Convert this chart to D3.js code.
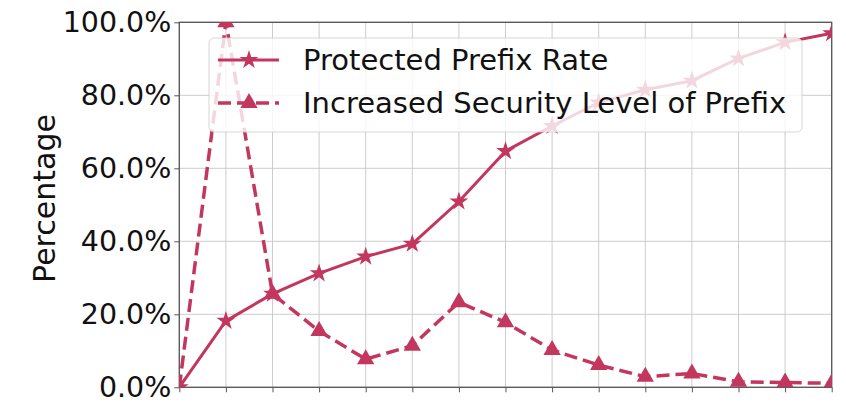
<!DOCTYPE html>
<html>
<head>
<meta charset="utf-8">
<script src="https://cdn.jsdelivr.net/npm/d3@7"></script>
<style>
  html, body { margin: 0; padding: 0; background: #fff; }
  svg { display: block; font-family: 'DejaVu Sans', sans-serif; }
</style>
</head>
<body>
<div id="chart"></div>
<script>
// values, one per x position (0..14)
var xIndex = [0, 1, 2, 3, 4, 5, 6, 7, 8, 9, 10, 11, 12, 13, 14];
var protectedRate = [0, 18.2, 25.6, 31.2, 35.8, 39.3, 50.9, 64.7, 71.6, 78.0, 81.5, 84.0, 90.1, 94.5, 97.0];
var increasedLevel = [0, 100, 25.6, 15.4, 7.7, 11.4, 23.3, 17.8, 10.2, 6.1, 2.9, 3.8, 1.5, 1.3, 1.1];
var yTicks = [0, 20, 40, 60, 80, 100];
var seriesNames = ['Protected Prefix Rate', 'Increased Security Level of Prefix'];

var color = '#c3375f';
var width = 846, height = 404;
var margin = {left: 179.3, right: 846 - 831.7, top: 22.3, bottom: 404 - 387.3};

var svg = d3.select('#chart').append('svg')
  .attr('width', width)
  .attr('height', height);

var x = d3.scaleLinear()
  .domain([0, 14])
  .range([margin.left, width - margin.right]);
var y = d3.scaleLinear()
  .domain([0, 100])
  .range([height - margin.bottom, margin.top]);

svg.append('defs').append('clipPath')
  .attr('id', 'plot-clip')
  .append('rect')
  .attr('x', x(0))
  .attr('y', y(100))
  .attr('width', x(14) - x(0))
  .attr('height', y(0) - y(100));

// grid
var grid = svg.append('g').attr('class', 'grid');
grid.selectAll('line.gx')
  .data(xIndex)
  .enter().append('line')
  .attr('class', 'gx')
  .attr('x1', function(d) { return x(d); })
  .attr('x2', function(d) { return x(d); })
  .attr('y1', y(0))
  .attr('y2', y(100))
  .attr('stroke', '#cccccc')
  .attr('stroke-width', 1);
grid.selectAll('line.gy')
  .data(yTicks)
  .enter().append('line')
  .attr('class', 'gy')
  .attr('x1', x(0))
  .attr('x2', x(14))
  .attr('y1', function(d) { return y(d); })
  .attr('y2', function(d) { return y(d); })
  .attr('stroke', '#cccccc')
  .attr('stroke-width', 1);

// axes
var yAxis = svg.append('g')
  .attr('transform', 'translate(' + x(0) + ',0)')
  .call(d3.axisLeft(y)
    .tickValues(yTicks)
    .tickSize(5)
    .tickPadding(3)
    .tickFormat(function(d) { return d.toFixed(1) + '%'; }));
yAxis.select('.domain').remove();
yAxis.selectAll('.tick line').attr('stroke', '#555');
yAxis.selectAll('.tick text')
  .attr('fill', '#111')
  .style('font-size', '28.5px')
  .style('font-family', "'DejaVu Sans', sans-serif");

var xAxis = svg.append('g')
  .attr('transform', 'translate(0,' + y(0) + ')')
  .call(d3.axisBottom(x)
    .tickValues(xIndex)
    .tickSize(5)
    .tickFormat(''));
xAxis.select('.domain').remove();
xAxis.selectAll('.tick line').attr('stroke', '#555');

svg.append('rect')
  .attr('x', x(0))
  .attr('y', y(100))
  .attr('width', x(14) - x(0))
  .attr('height', y(0) - y(100))
  .attr('fill', 'none')
  .attr('stroke', '#555')
  .attr('stroke-width', 1.3);

svg.append('text')
  .attr('transform', 'translate(55,198.5) rotate(-90)')
  .attr('text-anchor', 'middle')
  .attr('fill', '#111')
  .style('font-size', '30px')
  .text('Percentage');

// lines
var line = d3.line()
  .x(function(d, i) { return x(xIndex[i]); })
  .y(function(d) { return y(d); });

var plot = svg.append('g').attr('clip-path', 'url(#plot-clip)');

plot.append('path')
  .datum(increasedLevel)
  .attr('d', line)
  .attr('fill', 'none')
  .attr('stroke', color)
  .attr('stroke-width', 3.5)
  .attr('stroke-dasharray', '13,6');
plot.append('path')
  .datum(protectedRate)
  .attr('d', line)
  .attr('fill', 'none')
  .attr('stroke', color)
  .attr('stroke-width', 3);

var star = d3.symbol().type(d3.symbolStar).size(110);
var tri = d3.symbol().type(d3.symbolTriangle).size(130);

plot.selectAll('path.star')
  .data(protectedRate)
  .enter().append('path')
  .attr('class', 'star')
  .attr('d', star)
  .attr('transform', function(d, i) { return 'translate(' + x(xIndex[i]) + ',' + y(d) + ')'; })
  .attr('fill', color);
plot.selectAll('path.tri')
  .data(increasedLevel)
  .enter().append('path')
  .attr('class', 'tri')
  .attr('d', tri)
  .attr('transform', function(d, i) { return 'translate(' + x(xIndex[i]) + ',' + y(d) + ')'; })
  .attr('fill', color);

// legend, drawn over the lines with a see-through frame
var legend = svg.append('g').attr('class', 'legend');
legend.append('rect')
  .attr('x', 209)
  .attr('y', 38)
  .attr('width', 593)
  .attr('height', 94)
  .attr('rx', 5)
  .attr('fill', 'rgba(255,255,255,0.8)')
  .attr('stroke', 'rgba(204,204,204,0.8)')
  .attr('stroke-width', 1);

var entry = legend.selectAll('g.entry')
  .data(seriesNames)
  .enter().append('g')
  .attr('class', 'entry')
  .attr('transform', function(d, i) { return 'translate(218,' + (60 + i * 43) + ')'; });
entry.append('line')
  .attr('x1', 0)
  .attr('x2', 61)
  .attr('y1', 0)
  .attr('y2', 0)
  .attr('stroke', color)
  .attr('stroke-width', function(d, i) { return i === 0 ? 3 : 3.5; })
  .attr('stroke-dasharray', function(d, i) { return i === 0 ? null : '13,6'; });
entry.append('path')
  .attr('d', function(d, i) { return i === 0 ? star() : tri(); })
  .attr('transform', 'translate(31,0)')
  .attr('fill', color);
entry.append('text')
  .attr('x', 85)
  .attr('y', 10)
  .attr('fill', '#111')
  .style('font-size', '29px')
  .text(function(d) { return d; });
</script>
</body>
</html>
